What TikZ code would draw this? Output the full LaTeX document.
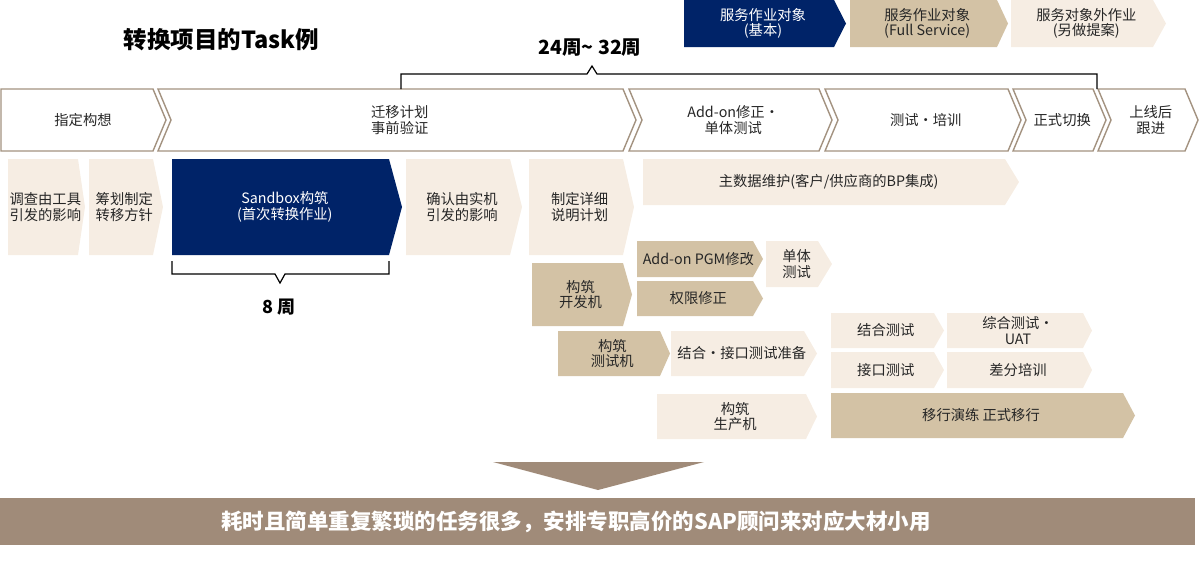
\documentclass[tikz,border=0pt]{standalone}
\usepackage{fontspec}
\setmainfont{Noto Sans CJK SC}
\usetikzlibrary{positioning}
\definecolor{svcnavy}{RGB}{0,35,104}
\definecolor{svctan}{RGB}{211,194,165}
\definecolor{svccream}{RGB}{246,237,227}
\definecolor{phaseline}{RGB}{163,146,128}
\definecolor{barbrown}{RGB}{160,139,121}
\tikzset{
    svcbasic/.style={fill=svcnavy, text=white},
    svcfull/.style={fill=svctan, text=black!85},
    svcextra/.style={fill=svccream, text=black!85},
    tasklabel/.style={align=center, inner sep=0pt, font=\fontsize{14.3}{15.5}\selectfont},
    phaseframe/.style={draw=phaseline, line width=1.4pt, fill=white, line join=miter},
    bracket/.style={draw=black, line width=1.2pt},
    weeks/.style={font=\bfseries\fontsize{18}{20}\selectfont} }
% flat left, pointed right: style, name, x left, y top, x right, y bottom, x tip, text
\newcommand{\taskbox}[8]{%
    \fill[#1] (#3,#4) -- (#5,#4) -- (#7,{(#4+#6)/2}) -- (#5,#6) -- (#3,#6) -- cycle;
    \node[#1, fill=none, tasklabel] (#2) at ({(#3+#5)/2+(#7-#5)/3},{(#4+#6)/2}) {#8};}
% phase row: name, x left, x right, notch depth, text
\newcommand{\phasestep}[5]{%
    \draw[phaseframe] (#2,89) -- (#3,89) -- ({#3+13},120) -- (#3,151) -- (#2,151) -- ({#2+#4},120) -- cycle;
    \node[tasklabel, text=black!85] (#1) at ({(#2+#3)/2+6+#4/4},120) {#5};}

\begin{document}
\begin{tikzpicture}[x=1pt, y=-1pt]
    \useasboundingbox (0,0) rectangle (1199,566);
    \node[font=\bfseries\fontsize{23.5}{25}\selectfont, anchor=west] (title) at (120,40) {转换项目的Task例};
    % legend
    \taskbox{svcbasic}{basiclegend}{684}{0}{834}{47}{846}{服务作业对象\\(基本)}
    \taskbox{svcfull}{fulllegend}{850}{0}{997}{47}{1008}{服务作业对象\\(Full Service)}
    \taskbox{svcextra}{extralegend}{1011}{0}{1153}{47}{1166}{服务对象外作业\\(另做提案)}
    % phases
    \phasestep{idea}{1}{153}{0}{指定构想}
    \phasestep{plan}{158}{623}{13}{迁移计划\\事前验证}
    \phasestep{addon}{629}{819}{13}{Add-on修正·\\单体测试}
    \phasestep{test}{825}{1008}{13}{测试·培训}
    \phasestep{cutover}{1013}{1093}{13}{正式切换}
    \phasestep{support}{1098}{1185}{13}{上线后\\跟进}
    % ----
    \coordinate (spanL) at (401,89);
    \coordinate (spanR) at (1097,89);
    \draw[bracket] (spanL) -- (401,74) -- (587,74) -- (592,66) -- (597,74) -- (1097,74) -- (spanR);
    \node[weeks, font=\bfseries\fontsize{19.5}{21}\selectfont] (span) at (590,48) {24周\textasciitilde{} 32周};
    % tasks
    \taskbox{svcextra}{toolimpact}{8}{159}{78}{255}{85}{调查由工具\\引发的影响}
    \taskbox{svcextra}{policy}{89}{159}{153}{255}{163}{筹划制定\\转移方针}
    \taskbox{svcbasic}{sandbox}{172}{159}{389}{255}{402}{Sandbox构筑\\(首次转换作业)}
    \taskbox{svcextra}{realimpact}{406}{159}{510}{255}{522}{确认由实机\\引发的影响}
    \taskbox{svcextra}{specplan}{529}{159}{623}{255}{634}{制定详细\\说明计划}
    \taskbox{svcextra}{masterdata}{643}{159}{1005}{205}{1019}{主数据维护(客户/供应商的BP集成)}
    \taskbox{svcfull}{devsys}{532}{263}{623}{326}{632}{构筑\\开发机}
    \taskbox{svcfull}{pgmfix}{637}{241}{753}{277}{763}{Add-on PGM修改}
    \taskbox{svcfull}{authfix}{637}{281}{753}{316}{763}{权限修正}
    \taskbox{svcextra}{unittest}{766}{241}{818}{287}{832}{单体\\测试}
    \taskbox{svcfull}{testsys}{558}{331}{660}{376}{670}{构筑\\测试机}
    \taskbox{svcextra}{testprep}{671}{331}{804}{376}{817}{结合·接口测试准备}
    \taskbox{svcextra}{inttest}{831}{313}{934}{348}{944}{结合测试}
    \taskbox{svcextra}{uat}{947}{313}{1083}{348}{1092}{综合测试·\\UAT}
    \taskbox{svcextra}{iftest}{831}{352}{934}{388}{944}{接口测试}
    \taskbox{svcextra}{training}{947}{352}{1083}{388}{1092}{差分培训}
    \taskbox{svcextra}{prodsys}{657}{394}{806}{439}{817}{构筑\\生产机}
    \taskbox{svcfull}{migration}{831}{393}{1123}{438}{1135}{移行演练 正式移行}
    % ----
    \coordinate (sandL) at (172,261);
    \coordinate (sandR) at (389,261);
    \draw[bracket] (sandL) -- (172,274) -- (275,274) -- (280,283) -- (285,274) -- (389,274) -- (sandR);
    \node[weeks] (sandweeks) at (279,307) {8 周};
    % summary
    \fill[barbrown] (493,462) -- (704,462) -- (598,490) -- cycle;
    \fill[barbrown] (0,498) rectangle (1195,545);
    \node[font=\bfseries\fontsize{21.5}{23}\selectfont, text=white] (summary) at (576,522) {耗时且简单重复繁琐的任务很多，安排专职高价的SAP顾问来对应大材小用};
\end{tikzpicture}
\end{document}
